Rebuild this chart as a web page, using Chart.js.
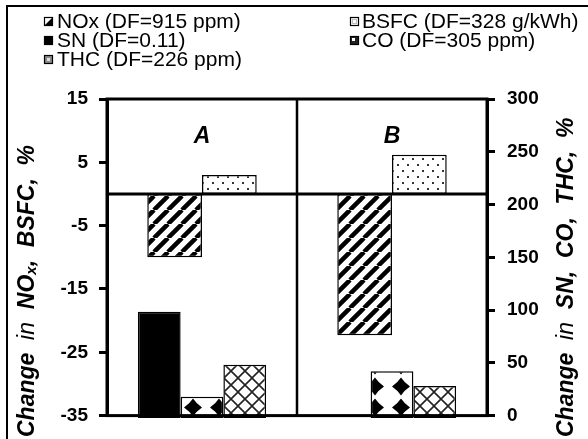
<!DOCTYPE html>
<html><head><meta charset="utf-8">
<script src="https://cdn.jsdelivr.net/npm/chart.js@4"></script>
<style>
html,body{margin:0;padding:0;background:#fff;overflow:hidden}
#wrap{position:relative;width:588px;height:439px}
#wrap canvas{position:absolute;left:0;top:0;display:block;width:588px;height:439px}
</style>
</head><body>
<div id="wrap">
<canvas id="cRight" width="588" height="439"></canvas>
<canvas id="cLeft" width="588" height="439"></canvas>
</div>
<script>
// ---- data ----
const categories = ['A', 'B'];
const noxValues  = [-10, -22.3];   // left axis, %
const bsfcValues = [3, 6.2];       // left axis, %
const snValues   = [100, null];    // right axis, %
const coValues   = [20, 44];       // right axis, %
const thcValues  = [50, 30];       // right axis, %
const leftTickValues  = [-35, -25, -15, -5, 5, 15];
const rightTickValues = [0, 50, 100, 150, 200, 250, 300];
const legendLeft  = ['NOx (DF=915 ppm)', 'SN (DF=0.11)', 'THC (DF=226 ppm)'];
const legendRight = ['BSFC (DF=328 g/kWh)', 'CO (DF=305 ppm)'];

const FONT = "'Liberation Sans', Arial, sans-serif";
const ctxL = document.getElementById('cLeft').getContext('2d');
const ctxR = document.getElementById('cRight').getContext('2d');

function makePattern(w, h, draw, tx, ty) {
  const c = document.createElement('canvas');
  c.width = w; c.height = h;
  const g = c.getContext('2d');
  g.fillStyle = '#fff'; g.fillRect(0, 0, w, h);
  draw(g, w, h);
  const p = ctxL.createPattern(c, 'repeat');
  if (tx || ty) { try { p.setTransform(new DOMMatrix().translate(tx || 0, ty || 0)); } catch (e) {} }
  return p;
}
const stripes = makePattern(14, 14, (g, w) => {
  g.strokeStyle = '#000'; g.lineWidth = 4.5; g.beginPath();
  for (const k of [-1, 0, 1]) { g.moveTo(k * w, w); g.lineTo(k * w + w, 0); }
  g.stroke();
});
const dots = makePattern(10, 12, (g) => {
  g.fillStyle = '#333';
  g.fillRect(2, 2, 2, 2); g.fillRect(7, 8, 2, 2);
});
const diamonds = makePattern(26, 21, (g) => {
  g.fillStyle = '#000'; g.beginPath();
  const cx = 13, cy = 10.5, r = 9, k = 0.4 * r;
  g.moveTo(cx, cy - r);
  g.quadraticCurveTo(cx + k, cy - k, cx + r, cy);
  g.quadraticCurveTo(cx + k, cy + k, cx, cy + r);
  g.quadraticCurveTo(cx - k, cy + k, cx - r, cy);
  g.quadraticCurveTo(cx - k, cy - k, cx, cy - r);
  g.fill();
}, 180, 397);
const cross = makePattern(14, 14, (g, w) => {
  g.strokeStyle = '#222'; g.lineWidth = 1.6; g.beginPath();
  g.moveTo(0, 0); g.lineTo(w, w); g.moveTo(w, 0); g.lineTo(0, w);
  g.stroke();
});

const tickFont = { family: FONT, size: 19, weight: 'bold' };

function drawRich(c, parts, x, y) {
  let cx = x;
  for (const p of parts) {
    c.font = p.font;
    c.fillText(p.t, cx, y + (p.dy || 0));
    cx += c.measureText(p.t).width;
  }
}

const BI = "italic bold 23px " + FONT;
const IT = "italic 23px " + FONT;
const BIs = "italic bold 15px " + FONT;
const leftTitle = [
  { t: 'Change  ', font: BI }, { t: 'in  ', font: IT }, { t: 'NO', font: BI },
  { t: 'x', font: BIs, dy: 4 }, { t: ',  BSFC,  %', font: BI }
];
const rightTitle = [
  { t: 'Change  ', font: BI }, { t: 'in  ', font: IT }, { t: 'SN,  CO,  THC,  %', font: BI }
];

function swatch(c, kind, x, y) {
  const s = 9;
  c.save();
  c.fillStyle = '#fff'; c.fillRect(x, y, s, s);
  if (kind === 'NOx') {
    c.fillStyle = '#000'; c.beginPath();
    c.moveTo(x + s, y); c.lineTo(x + s, y + s); c.lineTo(x, y + s); c.closePath(); c.fill();
  } else if (kind === 'SN') {
    c.fillStyle = '#000'; c.fillRect(x, y, s, s);
  } else if (kind === 'THC') {
    c.fillStyle = '#8a8a8a'; c.fillRect(x, y, s, s);
    c.fillStyle = '#ddd'; c.fillRect(x + 3, y + 3, 3, 3);
  } else if (kind === 'BSFC') {
    c.fillStyle = '#bbb'; c.fillRect(x + 2, y + 2, s - 4, s - 4);
    c.fillStyle = '#fff'; c.fillRect(x + 3, y + 3, s - 6, s - 6);
  } else if (kind === 'CO') {
    c.fillStyle = '#222'; c.fillRect(x, y, s, s);
    c.fillStyle = '#fff'; c.fillRect(x + 2, y + 2, 3, 3);
  }
  c.strokeStyle = '#000'; c.lineWidth = 1.2; c.strokeRect(x + 0.5, y + 0.5, s - 1, s - 1);
  c.restore();
}

const whiteBg = {
  id: 'whiteBg',
  beforeDraw(chart) {
    const c = chart.ctx;
    c.save(); c.fillStyle = '#fff'; c.fillRect(0, 0, chart.width, chart.height); c.restore();
  }
};

const decor = {
  id: 'decor',
  afterDatasetsDraw(chart) {
    const c = chart.ctx, a = chart.chartArea, sx = chart.scales.x, sy = chart.scales.y;
    c.save();
    c.strokeStyle = '#000';
    c.lineWidth = 3;
    c.strokeRect(a.left, a.top, a.right - a.left, a.bottom - a.top);
    const y0 = sy.getPixelForValue(0);
    c.beginPath(); c.moveTo(a.left, y0); c.lineTo(a.right, y0); c.stroke();
    const xd = (sx.getPixelForValue(0) + sx.getPixelForValue(1)) / 2;
    c.lineWidth = 2.5;
    c.beginPath(); c.moveTo(xd, a.top); c.lineTo(xd, a.bottom); c.stroke();
    c.fillStyle = '#000';
    c.font = "italic bold 23px " + FONT;
    c.textAlign = 'center'; c.textBaseline = 'middle';
    categories.forEach((lab, i) => c.fillText(lab, sx.getPixelForValue(i), 137));
    c.restore();
  },
  afterDraw(chart) {
    const c = chart.ctx;
    c.save();
    // outer frame (cropped at right/bottom)
    c.strokeStyle = '#000'; c.lineWidth = 2;
    c.strokeRect(7, 6, 620, 470);
    // legend
    const LF = "21px " + FONT;
    c.textBaseline = 'middle'; c.textAlign = 'left';
    const rowY = [22, 41, 60];
    const leftKinds = ['NOx', 'SN', 'THC'], rightKinds = ['BSFC', 'CO'];
    legendLeft.forEach((t, i) => { swatch(c, leftKinds[i], 44, rowY[i] - 5); c.fillStyle = '#000'; c.font = LF; c.fillText(t, 57, rowY[i]); });
    legendRight.forEach((t, i) => { swatch(c, rightKinds[i], 350, rowY[i] - 5); c.fillStyle = '#000'; c.font = LF; c.fillText(t, 362, rowY[i]); });
    // axis titles (reading bottom to top)
    c.fillStyle = '#000';
    c.textBaseline = 'middle';
    c.save(); c.translate(28, 437); c.rotate(-Math.PI / 2); drawRich(c, leftTitle, 0, 0); c.restore();
    c.save(); c.translate(567, 437); c.rotate(-Math.PI / 2); drawRich(c, rightTitle, 0, 0); c.restore();
    c.restore();
  }
};

const yGrid = { drawOnChartArea: false, drawTicks: true, tickLength: 8, lineWidth: 3, color: '#000' };
const common = { borderColor: '#000', borderWidth: 1.5, borderSkipped: false, barPercentage: 1 };

// Right-axis series (SN, CO, THC) – bottom canvas
new Chart(ctxR, {
  type: 'bar',
  data: {
    labels: categories,
    datasets: [
      { label: 'SN', data: snValues, backgroundColor: '#000', categoryPercentage: 0.675, ...common },
      { label: 'CO', data: coValues, backgroundColor: diamonds, categoryPercentage: 0.675, ...common },
      { label: 'THC', data: thcValues, backgroundColor: cross, categoryPercentage: 0.675, ...common }
    ]
  },
  options: {
    responsive: false, animation: false,
    layout: { padding: { top: 99, bottom: 21, left: 107, right: 101 } },
    plugins: { legend: { display: false }, tooltip: { enabled: false } },
    scales: {
      x: { type: 'category', display: false, offset: true },
      y: { display: false, min: 0, max: 300 }
    }
  },
  plugins: [whiteBg]
});

// Left-axis series (NOx, BSFC) + axes and decorations – top canvas
new Chart(ctxL, {
  type: 'bar',
  data: {
    labels: categories,
    datasets: [
      { label: 'NOx', data: noxValues, yAxisID: 'y', backgroundColor: stripes, categoryPercentage: 0.576, ...common },
      { label: 'BSFC', data: bsfcValues, yAxisID: 'y', backgroundColor: dots, categoryPercentage: 0.576, ...common }
    ]
  },
  options: {
    responsive: false, animation: false,
    layout: { padding: { top: 99, bottom: 21, left: 0, right: 0 } },
    plugins: { legend: { display: false }, tooltip: { enabled: false } },
    scales: {
      x: { type: 'category', display: false, offset: true },
      y: {
        position: 'left', min: -35, max: 15,
        afterBuildTicks: s => { s.ticks = leftTickValues.map(v => ({ value: v })); },
        afterFit: s => { s.width = 107; },
        ticks: { font: tickFont, color: '#000', padding: 11 },
        grid: yGrid, border: { display: true, width: 3, color: '#000' }
      },
      y2: {
        position: 'right', min: 0, max: 300,
        afterBuildTicks: s => { s.ticks = rightTickValues.map(v => ({ value: v })); },
        afterFit: s => { s.width = 101; },
        ticks: { font: tickFont, color: '#000', padding: 12 },
        grid: yGrid, border: { display: true, width: 3, color: '#000' }
      }
    }
  },
  plugins: [decor]
});
</script>
</body></html>
